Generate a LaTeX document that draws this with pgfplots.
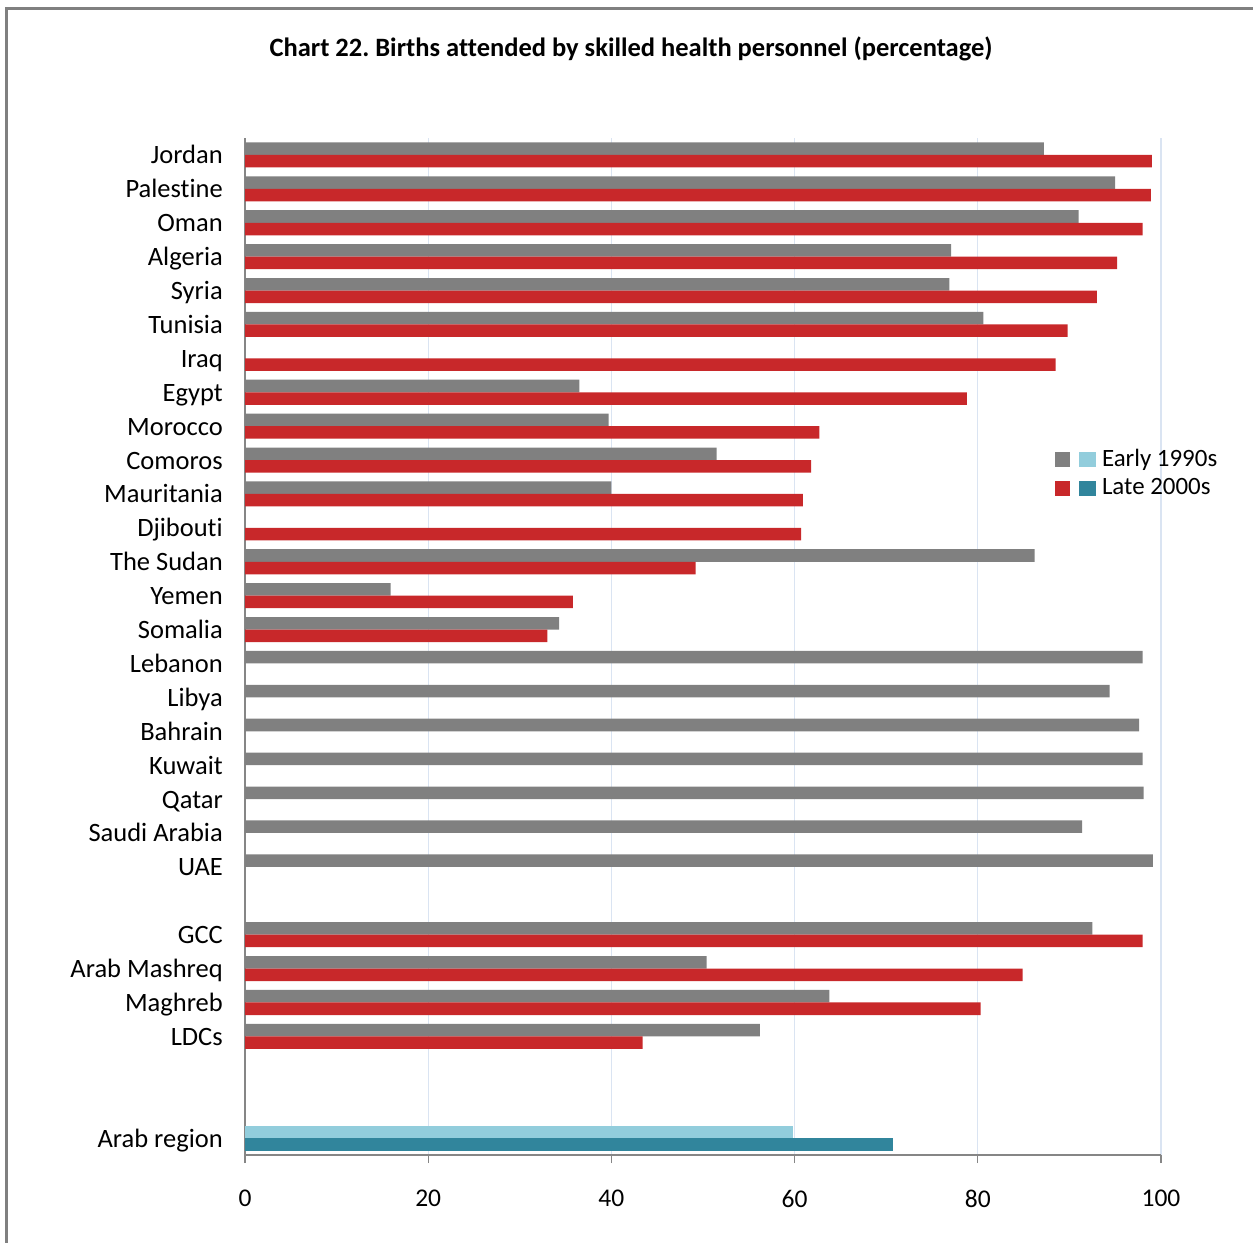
\documentclass[border=0pt]{standalone}
\usepackage{pgfplots}
\pgfplotsset{compat=1.18}
\usepackage{fontspec}
\setmainfont{Carlito}[Ligatures=NoCommon]
\definecolor{cgray}{RGB}{128,128,128}
\definecolor{cred}{RGB}{200,40,42}
\definecolor{clblue}{RGB}{146,205,220}
\definecolor{cteal}{RGB}{49,133,156}
\definecolor{cgrid}{RGB}{218,228,242}
\definecolor{caxis}{RGB}{134,134,134}
\definecolor{cframe}{RGB}{128,128,128}
\begin{document}
\frenchspacing
\begin{tikzpicture}
\path[use as bounding box] (0bp,0bp) rectangle (626.5bp,621.5bp);
\draw[cframe, line width=1.5bp] (3.2bp,-10bp) -- (3.2bp,617bp) -- (640bp,617bp);
\node[font=\fontsize{13.3}{16}\selectfont\bfseries] at (315.5bp,597bp) {Chart 22. Births attended by skilled health personnel (percentage)};
\begin{axis}[
 at={(122.5bp,44bp)}, anchor=south west,
 scale only axis, width=458bp, height=508.5bp,
 xbar, bar width=0.37,
 xmin=0, xmax=100, ymin=-0.5, ymax=29.5, y dir=reverse,
 axis x line*=bottom, axis y line*=left,
 axis line style={caxis, line width=0.8bp, -},
 xtick={0,20,...,100}, xmajorgrids, grid style={cgrid, line width=0.6bp},
 tick align=outside, major tick length=4bp,
 xtick style={caxis, line width=0.6bp},
 ytick={0,1,2,3,4,5,6,7,8,9,10,11,12,13,14,15,16,17,18,19,20,21,23,24,25,26,29},
 yticklabels={Jordan,Palestine,Oman,Algeria,Syria,Tunisia,Iraq,Egypt,Morocco,Comoros,Mauritania,Djibouti,The Sudan,Yemen,Somalia,Lebanon,Libya,Bahrain,Kuwait,Qatar,Saudi Arabia,UAE,GCC,Arab Mashreq,Maghreb,LDCs,Arab region},
 ytick style={draw=none},
 yticklabel style={font=\fontsize{13.3}{16}\selectfont, xshift=-3.6bp, yshift=-1.3bp, text height=9bp, text depth=2.6bp},
 xticklabel style={font=\fontsize{12.8}{15}\selectfont, yshift=-10bp},
 /pgf/number format/assume math mode=true,
 legend style={at={(0.8843,0.694)}, anchor=north west, draw=none, fill=none,
   font=\fontsize{12.5}{15}\selectfont, inner sep=0pt, outer sep=0pt,
   nodes={inner sep=0pt}, column sep=3bp, row sep=4.6bp},
 legend cell align=left,
]
\addplot[fill=cgray, draw=none, bar shift=-0.185,
  legend image code/.code={\fill[cgray] (0bp,-3.75bp) rectangle (7.5bp,3.75bp); \fill[clblue] (12bp,-3.75bp) rectangle (20.5bp,3.75bp);}]
 coordinates {(87.2,0) (95.0,1) (91.0,2) (77.1,3) (76.9,4) (80.6,5) (36.5,7) (39.7,8) (51.5,9) (40.0,10) (86.2,12) (15.9,13) (34.3,14) (98.0,15) (94.4,16) (97.6,17) (98.0,18) (98.1,19) (91.4,20) (99.1,21) (92.5,23) (50.4,24) (63.8,25) (56.2,26)};
\addlegendentry{Early 1990s}
\addplot[fill=cred, draw=none, bar shift=0.185,
  legend image code/.code={\fill[cred] (0bp,-3.75bp) rectangle (7.5bp,3.75bp); \fill[cteal] (12bp,-3.75bp) rectangle (20.5bp,3.75bp);}]
 coordinates {(99.0,0) (98.9,1) (98.0,2) (95.2,3) (93.0,4) (89.8,5) (88.5,6) (78.8,7) (62.7,8) (61.8,9) (60.9,10) (60.7,11) (49.2,12) (35.8,13) (33.0,14) (98.0,23) (84.9,24) (80.3,25) (43.4,26)};
\addlegendentry{Late 2000s}
\addplot[fill=clblue, draw=none, bar shift=-0.185, forget plot] coordinates {(59.8,29)};
\addplot[fill=cteal, draw=none, bar shift=0.185, forget plot] coordinates {(70.7,29)};
\end{axis}
\end{tikzpicture}
\end{document}
